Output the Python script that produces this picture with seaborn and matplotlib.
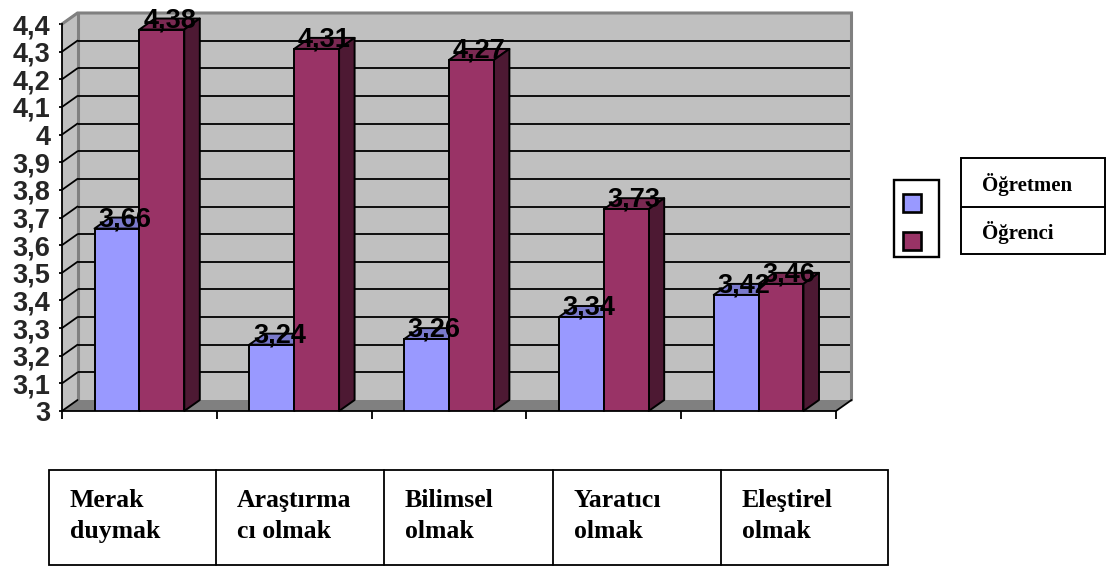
import matplotlib
matplotlib.use("Agg")
import matplotlib.pyplot as plt
from matplotlib.patches import Polygon, Rectangle
import pandas as pd
import seaborn as sns

# Chart data
categories = ["Merak\nduymak", "Araştırma\ncı olmak", "Bilimsel\nolmak", "Yaratıcı\nolmak", "Eleştirel\nolmak"]
series_names = ["Öğretmen", "Öğrenci"]
ogretmen = [3.66, 3.24, 3.26, 3.34, 3.42]
ogrenci = [4.38, 4.31, 4.27, 3.73, 3.46]
y_ticks = [3.0, 3.1, 3.2, 3.3, 3.4, 3.5, 3.6, 3.7, 3.8, 3.9, 4.0, 4.1, 4.2, 4.3, 4.4]
y_tick_labels = ["3", "3,1", "3,2", "3,3", "3,4", "3,5", "3,6", "3,7", "3,8", "3,9",
                 "4", "4,1", "4,2", "4,3", "4,4"]

# Palette: front face, top face, side face
front_colors = ["#9999FF", "#993366"]
top_colors = ["#7A7ACC", "#7A2952"]
side_colors = ["#4D4D80", "#4D1933"]
WALL = "#C0C0C0"
EDGE_GRAY = "#808080"

W, H = 1106, 566
sns.set_style("white")
plt.rcParams["font.family"] = ["Liberation Sans", "DejaVu Sans"]

fig = plt.figure(figsize=(W / 100, H / 100), dpi=100, facecolor="white")

# Plot frame of the front plane, in pixels
left, right, top, bottom = 62, 836, 24, 411
ax = fig.add_axes([left / W, 1 - bottom / H, (right - left) / W, (bottom - top) / H])
ax.patch.set_visible(False)

df = pd.DataFrame({
    "kategori": categories * 2,
    "grup": [series_names[0]] * len(categories) + [series_names[1]] * len(categories),
    "puan": ogretmen + ogrenci,
})
sns.barplot(data=df, x="kategori", y="puan", hue="grup", hue_order=series_names,
            palette=front_colors, width=0.58, gap=0, saturation=1, dodge=True,
            edgecolor="black", linewidth=1.4, legend=False, zorder=3, ax=ax)

ax.set_xlim(-0.5, len(categories) - 0.5)
ax.set_ylim(y_ticks[0], y_ticks[-1])
ax.set_xlabel("")
ax.set_ylabel("")

# Oblique depth of the pseudo-3D box, converted to data units
dx = 15.5 * (len(categories)) / (right - left)
dy = 11 * (y_ticks[-1] - y_ticks[0]) / (bottom - top)
x0, x1 = ax.get_xlim()
y0, y1 = ax.get_ylim()


def poly(points, face, edge="none", lw=0.0, z=1):
    ax.add_patch(Polygon(points, closed=True, facecolor=face, edgecolor=edge,
                         linewidth=lw, zorder=z, clip_on=False, joinstyle="round"))


# Back wall, side wall and floor
poly([(x0 + dx, y0 + dy), (x1 + dx, y0 + dy), (x1 + dx, y1 + dy), (x0 + dx, y1 + dy)], WALL, z=0.5)
poly([(x0, y0), (x0 + dx, y0 + dy), (x0 + dx, y1 + dy), (x0, y1)], WALL, z=0.5)
poly([(x0, y0), (x1, y0), (x1 + dx, y0 + dy), (x0 + dx, y0 + dy)], EDGE_GRAY, z=0.6)

# Gridlines run along the back wall and fold onto the side wall
for tick in y_ticks:
    if y0 < tick < y1:
        ax.plot([x0 + dx, x1 + dx], [tick + dy, tick + dy], color="black", lw=1.3,
                zorder=0.8, clip_on=False, solid_capstyle="butt")
    color = EDGE_GRAY if tick == y1 else "black"
    ax.plot([x0, x0 + dx], [tick, tick + dy], color=color, lw=1.3, zorder=0.9, clip_on=False)

# Gray outline of the wall
ax.plot([x0, x0 + dx, x1 + dx, x1 + dx], [y1, y1 + dy, y1 + dy, y0 + dy], color=EDGE_GRAY,
        lw=2.2, zorder=0.85, clip_on=False, solid_joinstyle="miter")
ax.plot([x0 + dx, x0 + dx], [y0 + dy, y1 + dy], color=EDGE_GRAY, lw=2.2, zorder=0.7, clip_on=False)
ax.plot([x1, x1 + dx], [y0, y0 + dy], color="black", lw=1.3, zorder=0.9, clip_on=False)

# Top and side faces derived from each drawn bar, plus the value labels
for idx, container in enumerate(ax.containers):
    for bar in container:
        xa = bar.get_x()
        xb = xa + bar.get_width()
        val = bar.get_height()
        poly([(xa, val), (xb, val), (xb + dx, val + dy), (xa + dx, val + dy)],
             top_colors[idx], "black", 1.4, 2.5)
        poly([(xb, y0), (xb + dx, y0 + dy), (xb + dx, val + dy), (xb, val)],
             side_colors[idx], "black", 1.4, 2.5)
        ax.text((xa + xb) / 2 + dx / 2, val + dy * 0.85, f"{val:.2f}".replace(".", ","),
                ha="center", va="center", fontsize=19.5, fontweight="bold",
                color="black", zorder=5, clip_on=False)

# Axis lines and ticks
for side in ("top", "right"):
    ax.spines[side].set_visible(False)
for side in ("left", "bottom"):
    ax.spines[side].set_visible(True)
    ax.spines[side].set_color("black")
    ax.spines[side].set_linewidth(1.3)
    ax.spines[side].set_zorder(4)

ax.set_xticks([i - 0.5 for i in range(len(categories) + 1)])
ax.set_xticklabels([])
ax.set_yticks(y_ticks)
ax.set_yticklabels(y_tick_labels, fontsize=19.5, fontweight="bold")
ax.tick_params(axis="x", length=5.5, width=1.3, color="black", bottom=True)
ax.tick_params(axis="y", length=2.5, width=1.3, color="black", left=True, pad=6)

# Overlay in pixel coordinates for the category table and the legend
ov = fig.add_axes([0, 0, 1, 1])
ov.set_xlim(0, W)
ov.set_ylim(H, 0)
ov.axis("off")
ov.patch.set_visible(False)
SERIF = ["Liberation Serif", "DejaVu Serif"]

# Category table under the plot
cell_edges = [49, 216, 384, 553, 721, 888]
ov.add_patch(Rectangle((cell_edges[0], 470), cell_edges[-1] - cell_edges[0], 95,
                       facecolor="white", edgecolor="black", linewidth=1.3))
for edge in cell_edges[1:-1]:
    ov.plot([edge, edge], [470, 565], color="black", lw=1.3)
for edge, name in zip(cell_edges, categories):
    ov.text(edge + 21, 516, name, ha="left", va="center", fontsize=18.5, fontweight="bold",
            family=SERIF, linespacing=1.45, color="black")

# Legend: swatches in one box, names in a ruled box beside it
ov.add_patch(Rectangle((894, 180), 45, 77, facecolor="white", edgecolor="black", linewidth=1.7))
for color, ypos in zip(front_colors, (194, 232)):
    ov.add_patch(Rectangle((903, ypos), 18, 18, facecolor=color, edgecolor="black", linewidth=1.9))
ov.add_patch(Rectangle((961, 158), 144, 96, facecolor="white", edgecolor="black", linewidth=1.4))
ov.plot([961, 1105], [207, 207], color="black", lw=1.4)
for name, ypos in zip(series_names, (184, 232)):
    ov.text(982, ypos, name, ha="left", va="center", fontsize=15, fontweight="bold",
            family=SERIF, color="black")

fig.savefig("out.png", dpi=100, facecolor="white")
